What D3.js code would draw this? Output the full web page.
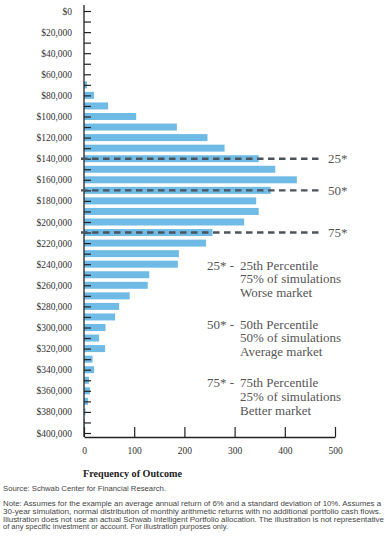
<!DOCTYPE html>
<html>
<head>
<meta charset="utf-8">
<script src="https://cdn.jsdelivr.net/npm/d3@7"></script>
<style>
  body { margin: 0; background: #fff; }
  svg { display: block; }
  .serif { font-family: "Liberation Serif", "DejaVu Serif", serif; }
  .sans { font-family: "Liberation Sans", Arial, sans-serif; }
</style>
</head>
<body>
<div id="chart"></div>
<script>
// outcome buckets (portfolio value) and how many simulations landed in each
const outcomes = [70000, 80000, 90000, 100000, 110000, 120000, 130000, 140000, 150000, 160000,
  170000, 180000, 190000, 200000, 210000, 220000, 230000, 240000, 250000, 260000,
  270000, 280000, 290000, 300000, 310000, 320000, 330000, 340000, 350000, 360000,
  370000, 380000, 390000];
const frequency = [6, 20, 48, 104, 185, 246, 280, 348, 381, 424,
  372, 343, 348, 319, 256, 243, 189, 187, 130, 127,
  91, 70, 62, 43, 30, 42, 17, 20, 10, 12,
  8, 3, 2];

// percentile markers
const pctValues = [140000, 170000, 210000];
const pctLabels = ['25*', '50*', '75*'];

// axis ticks
const yTicks = d3.range(0, 400001, 10000);
const xTicks = [0, 100, 200, 300, 400, 500];

// legend text
const legendKeys = ['25* -', '50* -', '75* -'];
const legendLines = [
  ['25th Percentile', '75% of simulations', 'Worse market'],
  ['50th Percentile', '50% of simulations', 'Average market'],
  ['75th Percentile', '25% of simulations', 'Better market']
];

const axisTitle = 'Frequency of Outcome';
const sourceText = 'Source: Schwab Center for Financial Research.';
const noteLines = [
  'Note: Assumes for the example an average annual return of 6% and a standard deviation of 10%. Assumes a',
  '30-year simulation, normal distribution of monthly arithmetic returns with no additional portfolio cash flows.',
  'Illustration does not use an actual Schwab Intelligent Portfolio allocation. The illustration is not representative',
  'of any specific investment or account. For illustration purposes only.'
];
const noteWidths = [378, 378, 381, 225];

const width = 385, height = 537;

let svg = d3.select('#chart')
  .append('svg')
    .attr('width', width)
    .attr('height', height);

let x = d3.scaleLinear().domain([0, 500]).range([84, 335]);
let y = d3.scaleLinear().domain([0, 400000]).range([11, 433]);
let barH = 7;
let xAxisY = 437;

// bars
svg.append('g')
  .selectAll('rect')
  .data(outcomes)
  .enter()
  .append('rect')
    .attr('x', x(0))
    .attr('y', function(d) { return y(d) - barH / 2 })
    .attr('width', function(d, i) { return x(frequency[i]) - x(0) })
    .attr('height', barH)
    .attr('fill', '#6fbbe6');

// y axis: ticks point right, labels every $20,000
let yAxis = d3.axisLeft(y)
  .tickValues(yTicks)
  .tickSizeInner(-7)
  .tickSizeOuter(0)
  .tickPadding(12)
  .tickFormat(function(d) { return d % 20000 === 0 ? '$' + d3.format(',')(d) : '' });

let gy = svg.append('g')
  .attr('transform', `translate(${x(0)},0)`)
  .call(yAxis);
gy.select('.domain').remove();
gy.selectAll('line').attr('stroke', '#222').attr('stroke-width', 1.2);
gy.selectAll('text')
  .attr('class', 'serif')
  .style('font-size', '9.5px')
  .attr('fill', '#333');

svg.append('line')
  .attr('x1', x(0)).attr('x2', x(0))
  .attr('y1', 5).attr('y2', xAxisY)
  .attr('stroke', '#222')
  .attr('stroke-width', 1.3);

// x axis: ticks point up
let xAxis = d3.axisBottom(x)
  .tickValues(xTicks)
  .tickSizeInner(-10)
  .tickSizeOuter(0)
  .tickPadding(10);

let gx = svg.append('g')
  .attr('transform', `translate(0,${xAxisY})`)
  .call(xAxis);
gx.select('.domain').attr('stroke', '#222').attr('stroke-width', 1.3);
gx.selectAll('line').attr('stroke', '#222').attr('stroke-width', 1.2);
gx.selectAll('text')
  .attr('class', 'serif')
  .style('font-size', '9.5px')
  .attr('fill', '#333');

// percentile dashed lines
svg.append('g')
  .selectAll('line')
  .data(pctValues)
  .enter()
  .append('line')
    .attr('x1', x(0) - 3)
    .attr('x2', 323)
    .attr('y1', function(d) { return y(d) })
    .attr('y2', function(d) { return y(d) })
    .attr('stroke', '#4b535c')
    .attr('stroke-width', 2.4)
    .attr('stroke-dasharray', '6.5,4.5');

svg.append('g')
  .selectAll('text')
  .data(pctValues)
  .enter()
  .append('text')
    .attr('class', 'serif')
    .attr('x', 328)
    .attr('y', function(d) { return y(d) + 4.5 })
    .style('font-size', '13px')
    .attr('fill', '#555')
    .text(function(d, i) { return pctLabels[i] });

// legend blocks
let legendTop = [269.5, 328.5, 387];
legendKeys.forEach(function(k, i) {
  let g = svg.append('g').attr('class', 'serif').style('font-size', '13px').attr('fill', '#555');
  g.append('text').attr('x', 207).attr('y', legendTop[i]).text(k);
  legendLines[i].forEach(function(line, j) {
    g.append('text').attr('x', 240).attr('y', legendTop[i] + j * 13.8).text(line);
  });
});

// axis title
svg.append('text')
  .attr('class', 'serif')
  .attr('x', 83)
  .attr('y', 477)
  .style('font-size', '11px')
  .style('font-weight', 'bold')
  .attr('fill', '#222')
  .attr('textLength', 99)
  .attr('lengthAdjust', 'spacingAndGlyphs')
  .text(axisTitle);

// source + note
svg.append('text')
  .attr('class', 'sans')
  .attr('x', 3)
  .attr('y', 491)
  .style('font-size', '7.6px')
  .attr('fill', '#444')
  .attr('textLength', 163)
  .attr('lengthAdjust', 'spacingAndGlyphs')
  .text(sourceText);

svg.append('g')
  .selectAll('text')
  .data(noteLines)
  .enter()
  .append('text')
    .attr('class', 'sans')
    .attr('x', 3)
    .attr('y', function(d, i) { return 506 + i * 7.8 })
    .style('font-size', '7.6px')
    .attr('fill', '#444')
    .attr('textLength', function(d, i) { return noteWidths[i] })
    .attr('lengthAdjust', 'spacingAndGlyphs')
    .text(function(d) { return d });
</script>
</body>
</html>
